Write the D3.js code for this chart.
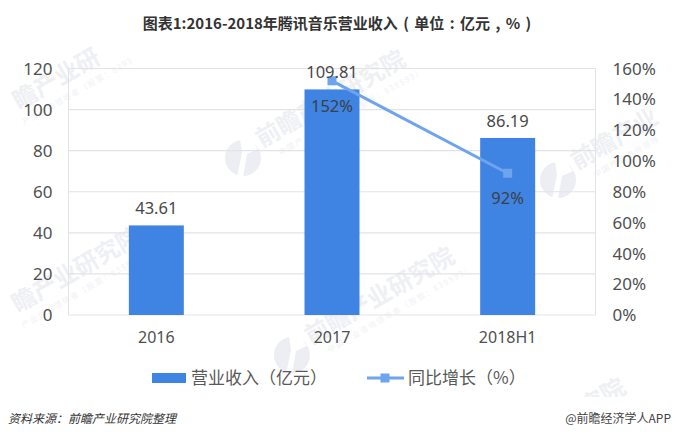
<!DOCTYPE html>
<html>
<head>
<meta charset="utf-8">
<script src="https://cdn.jsdelivr.net/npm/d3@7"></script>
<style>
  body { margin: 0; background: #fff; }
  text { font-family: "Noto Sans CJK SC", "Noto Sans", sans-serif; }
</style>
</head>
<body>
<div id="chart"></div>
<script>
// data
const categories = ['2016', '2017', '2018H1'];
const revenue = [43.61, 109.81, 86.19];
const growth = [null, 152, 92];
const leftTicks = [0, 20, 40, 60, 80, 100, 120];
const rightTicks = [0, 20, 40, 60, 80, 100, 120, 140, 160];

const width = 680, height = 437;
const plot = { left: 68.5, right: 595.5, top: 68.5, bottom: 315 };

const svg = d3.select('#chart').append('svg')
  .attr('width', width)
  .attr('height', height)
  .style('display', 'block');

const x = d3.scaleBand().domain(categories).range([plot.left, plot.right]).paddingInner(0.687).paddingOuter(0.3435);
const yLeft = d3.scaleLinear().domain([0, 120]).range([plot.bottom, plot.top]);
const yRight = d3.scaleLinear().domain([0, 160]).range([plot.bottom, plot.top]);
const cx = d => x(d) + x.bandwidth() / 2;

// watermarks
const marks = [
  { x: 19, y: 110, name: '瞻产业研', sub: '产业咨询领导者（股票：8393', subX: -3 },
  { x: 262, y: 148, logo: [243, 158], name: '前瞻产业研究院', sub: '中国产业咨询领导者（股票：839599）', subX: 12 },
  { x: 18, y: 313, name: '瞻产业研究院', sub: '产业咨询领导者（股票：839599）', subX: -3 },
  { x: 311, y: 345, logo: [292, 355], name: '前瞻产业研究院', sub: '中国产业咨询领导者（股票：839599）', subX: 12 },
  { x: 577, y: 170, logo: [558, 180], name: '前瞻产业', sub: '中国产业咨询领导', subX: 12 },
  { x: 586, y: 416, name: '究院', sub: '', subX: 12 }
];
svg.append('clipPath').attr('id', 'wmClip').append('rect').attr('width', width).attr('height', 397);
const wm = svg.append('g').attr('clip-path', 'url(#wmClip)');
marks.forEach(m => {
  const g = wm.append('g').attr('transform', `translate(${m.x},${m.y}) rotate(-30)`);
  g.append('text').text(m.name)
    .attr('font-size', 24).attr('font-weight', 700).attr('fill', '#eef0f4');
  g.append('text').text(m.sub)
    .attr('x', m.subX).attr('y', 16).attr('font-size', 8).attr('letter-spacing', 1.4).attr('fill', '#f0f2f5');
  if (m.logo) {
    const l = wm.append('g').attr('transform', `translate(${m.logo[0]},${m.logo[1]})`);
    l.append('circle').attr('r', 18).attr('fill', '#eceef3');
    l.append('path').attr('d', 'M-3,-19 L-1,-5 L-6,19 L0,19 L4,-4 L15,-9 L8,-18 Z').attr('fill', '#fff');
  }
});

// title
svg.append('text')
  .attr('x', 337).attr('y', 29)
  .attr('text-anchor', 'middle')
  .attr('font-size', 15).attr('font-weight', 700).attr('fill', '#333')
  .attr('word-spacing', 2)
  .text('图表1:2016-2018年腾讯音乐营业收入 ( 单位 : 亿元 , % )');

// grid
const gridColor = '#e3e3e6';
svg.append('g').selectAll('line')
  .data(leftTicks)
  .join('line')
  .attr('x1', plot.left).attr('x2', plot.right)
  .attr('y1', d => yLeft(d)).attr('y2', d => yLeft(d))
  .attr('stroke', gridColor).attr('stroke-width', 1.2);

svg.append('g').selectAll('line')
  .data([plot.left, plot.right])
  .join('line')
  .attr('x1', d => d).attr('x2', d => d)
  .attr('y1', plot.top).attr('y2', plot.bottom)
  .attr('stroke', gridColor).attr('stroke-width', 1);

// axes
const leftAxis = svg.append('g')
  .attr('transform', `translate(${plot.left},0)`)
  .call(d3.axisLeft(yLeft).tickValues(leftTicks).tickSize(0).tickPadding(16));
const rightAxis = svg.append('g')
  .attr('transform', `translate(${plot.right},0)`)
  .call(d3.axisRight(yRight).tickValues(rightTicks).tickSize(0).tickPadding(17).tickFormat(d => d + '%'));
const bottomAxis = svg.append('g')
  .attr('transform', `translate(0,${plot.bottom})`)
  .call(d3.axisBottom(x).tickSize(0).tickPadding(17));
[leftAxis, rightAxis, bottomAxis].forEach(a => {
  a.select('.domain').remove();
  a.selectAll('text').attr('fill', '#505050').style('font-family', '"Noto Sans", sans-serif');
});
leftAxis.selectAll('text').attr('font-size', 17).attr('dy', '0.33em');
rightAxis.selectAll('text').attr('font-size', 17).attr('dy', '0.33em');
bottomAxis.selectAll('text').attr('font-size', 16);

// bars
svg.append('g').selectAll('rect')
  .data(categories)
  .join('rect')
  .attr('x', d => x(d))
  .attr('y', (d, i) => yLeft(revenue[i]))
  .attr('width', x.bandwidth())
  .attr('height', (d, i) => plot.bottom - yLeft(revenue[i]))
  .attr('fill', '#3f84e3');

// growth line
const linePts = categories.map((c, i) => ({ c, v: growth[i] })).filter(d => d.v !== null);
const lineColor = '#6ea3ee';
svg.append('path')
  .datum(linePts)
  .attr('fill', 'none')
  .attr('stroke', lineColor)
  .attr('stroke-width', 3)
  .attr('d', d3.line().x(d => cx(d.c)).y(d => yRight(d.v)));
svg.append('g').selectAll('rect')
  .data(linePts)
  .join('rect')
  .attr('x', d => cx(d.c) - 4.5)
  .attr('y', d => yRight(d.v) - 4.5)
  .attr('width', 9).attr('height', 9)
  .attr('fill', lineColor);

// value labels
svg.append('g').selectAll('text')
  .data(categories)
  .join('text')
  .attr('x', d => cx(d))
  .attr('y', (d, i) => yLeft(revenue[i]) - 11)
  .attr('text-anchor', 'middle')
  .attr('font-size', 16.5).attr('fill', '#484848')
  .style('font-family', '"Noto Sans", sans-serif')
  .text((d, i) => revenue[i].toFixed(2));

svg.append('g').selectAll('text')
  .data(linePts)
  .join('text')
  .attr('x', d => cx(d.c))
  .attr('y', d => yRight(d.v) + 31)
  .attr('text-anchor', 'middle')
  .attr('font-size', 16.5).attr('fill', '#3c3f46')
  .style('font-family', '"Noto Sans", sans-serif')
  .text(d => d.v + '%');

// legend
const legendY = 378;
svg.append('rect').attr('x', 152).attr('y', legendY - 5).attr('width', 34).attr('height', 10).attr('fill', '#3f84e3');
svg.append('text').attr('x', 191).attr('y', legendY + 6)
  .attr('font-size', 17).attr('fill', '#595959').text('营业收入（亿元）');
svg.append('line').attr('x1', 367).attr('x2', 404).attr('y1', legendY).attr('y2', legendY)
  .attr('stroke', lineColor).attr('stroke-width', 3);
svg.append('rect').attr('x', 380.5).attr('y', legendY - 4.5).attr('width', 9).attr('height', 9).attr('fill', lineColor);
svg.append('text').attr('x', 408).attr('y', legendY + 6)
  .attr('font-size', 17).attr('fill', '#595959').text('同比增长（%）');

// source and credit
svg.append('text').attr('x', 8).attr('y', 423)
  .attr('font-size', 12).attr('font-style', 'italic').attr('fill', '#333')
  .text('资料来源：前瞻产业研究院整理');
svg.append('text').attr('x', 671).attr('y', 423)
  .attr('text-anchor', 'end')
  .attr('font-size', 12).attr('fill', '#444')
  .text('@前瞻经济学人APP');
</script>
</body>
</html>
